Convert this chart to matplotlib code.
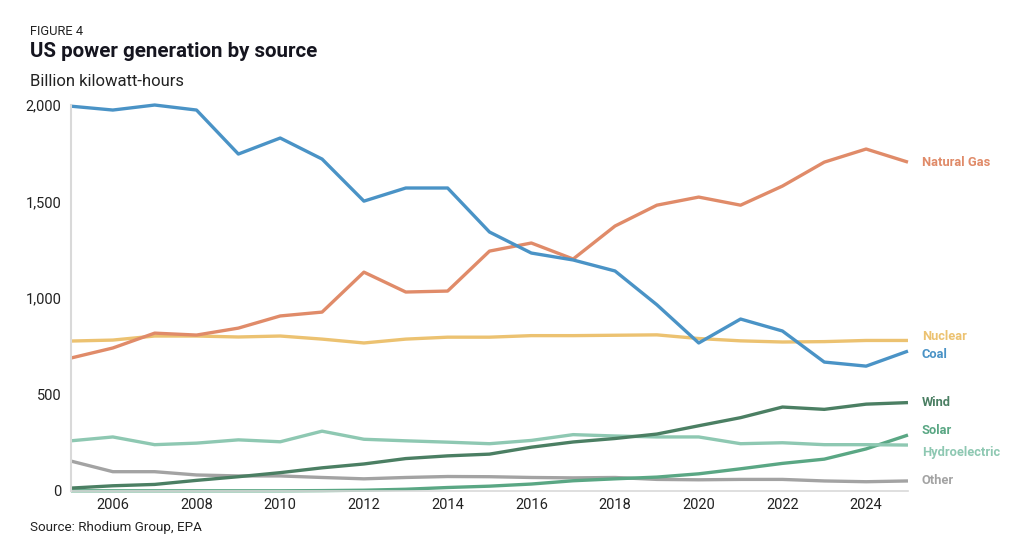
import matplotlib
matplotlib.use("Agg")
import matplotlib.pyplot as plt
from matplotlib.ticker import FuncFormatter

plt.rcParams['font.family'] = ['Roboto', 'DejaVu Sans']

years = list(range(2005, 2026))
coal = [1994, 1974, 2000, 1974, 1746, 1829, 1720, 1502, 1570, 1570, 1342, 1233, 1197, 1140, 965, 767, 891, 829, 668, 647, 725]
natural_gas = [689, 741, 818, 808, 844, 907, 927, 1134, 1031, 1036, 1243, 1285, 1202, 1373, 1481, 1523, 1481, 1580, 1704, 1772, 1704]
nuclear = [777, 782, 803, 803, 798, 803, 787, 767, 787, 797, 797, 805, 805, 807, 809, 790, 778, 772, 774, 780, 780]
hydro = [260, 280, 240, 248, 265, 255, 310, 268, 260, 253, 245, 262, 292, 285, 280, 280, 245, 250, 240, 240, 238]
wind = [15, 27, 34, 55, 74, 95, 120, 140, 168, 182, 191, 227, 254, 272, 295, 338, 380, 435, 423, 450, 458]
solar = [1, 1, 1, 1, 1, 1, 2, 4, 9, 18, 25, 36, 53, 63, 72, 89, 115, 143, 165, 218, 290]
other = [155, 100, 100, 83, 78, 78, 70, 63, 70, 75, 74, 70, 68, 70, 60, 58, 60, 60, 52, 48, 52]

series = [
    ("Other", other, "#a3a3a3"),
    ("Solar", solar, "#5aa784"),
    ("Hydroelectric", hydro, "#8ec8b2"),
    ("Wind", wind, "#4b7f63"),
    ("Nuclear", nuclear, "#ecc271"),
    ("Natural Gas", natural_gas, "#e08b69"),
    ("Coal", coal, "#4a93c6"),
]
# label nudges in pixels (positive = up)
label_nudge = {"Natural Gas": 0, "Nuclear": 4, "Coal": -3, "Wind": 0, "Solar": 5, "Hydroelectric": -7, "Other": 0}
x_ticks = [2006, 2008, 2010, 2012, 2014, 2016, 2018, 2020, 2022, 2024]
y_ticks = [0, 500, 1000, 1500, 2000]

fig = plt.figure(figsize=(10.24, 5.47), dpi=100)
ax = fig.add_axes([0.0693, 0.1024, 0.8174, 0.7056])

for name, vals, color in series:
    ax.plot(years, vals, color=color, lw=2.4, solid_capstyle='butt', clip_on=False)
    ax.annotate(name, xy=(years[-1], vals[-1]), xytext=(14, label_nudge[name]),
                textcoords='offset pixels', color=color, fontsize=9.3, fontweight='bold', va='center', ha='left',
                annotation_clip=False)

ax.set_xlim(2005, 2025)
ax.set_ylim(0, 2000)
ax.set_xticks(x_ticks)
ax.set_yticks(y_ticks)
ax.yaxis.set_major_formatter(FuncFormatter(lambda v, p: f"{int(v):,}"))
for s in ['top', 'right']:
    ax.spines[s].set_visible(False)
ax.spines['left'].set_color('#d9d9d9')
ax.spines['bottom'].set_color('#d9d9d9')
ax.spines['left'].set_linewidth(1.5)
ax.spines['bottom'].set_linewidth(1.2)
ax.tick_params(length=0, labelsize=10.5, colors='#222222')
ax.tick_params(axis='y', pad=7)
ax.tick_params(axis='x', pad=5)

fig.text(0.029, 0.943, "FIGURE 4", fontsize=9.3, color='#222222', va='center')
fig.text(0.029, 0.906, "US power generation by source", fontsize=14.8, fontweight='bold', color='#15151f', va='center')
fig.text(0.029, 0.851, "Billion kilowatt-hours", fontsize=12, color='#222222', va='center')
fig.text(0.029, 0.036, "Source: Rhodium Group, EPA", fontsize=9.6, color='#222222', va='center')

fig.savefig("out.png", dpi=100)
